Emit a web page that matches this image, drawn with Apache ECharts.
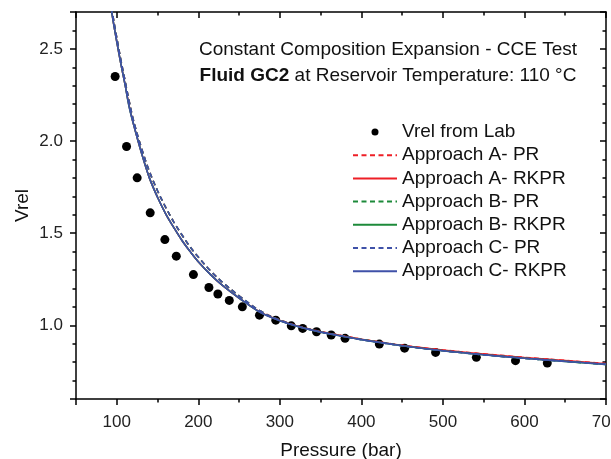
<!DOCTYPE html>
<html>
<head>
<meta charset="utf-8">
<script src="https://cdn.jsdelivr.net/npm/echarts@6/dist/echarts.min.js"></script>
<style>html,body{margin:0;padding:0;background:#fff}#c{width:611px;height:459px}</style>
</head>
<body>
<div id="c"></div>
<script>
// ---- data ----
var labP = [98, 112, 125, 141, 159, 173, 194, 213, 224, 238, 254, 275, 295, 314, 328, 345, 363, 380, 422, 453, 491, 541, 589, 628];
var labV = [2.35, 1.97, 1.80, 1.61, 1.465, 1.375, 1.275, 1.205, 1.17, 1.135, 1.10, 1.055, 1.028, 0.997, 0.983, 0.965, 0.947, 0.929, 0.898, 0.876, 0.853, 0.826, 0.808, 0.795];

var curveP = [92, 96, 100, 105, 110, 115, 120, 130, 140, 150, 160, 170, 180, 190, 200, 215, 230, 250, 275, 300, 325, 350, 375, 400, 450, 500, 550, 600, 650, 700];
var aPR   = [2.77, 2.66, 2.56, 2.44, 2.33, 2.22, 2.12, 1.965, 1.835, 1.73, 1.64, 1.56, 1.49, 1.425, 1.37, 1.295, 1.232, 1.16, 1.08, 1.029, 0.993, 0.966, 0.945, 0.925, 0.892, 0.866, 0.845, 0.826, 0.809, 0.792];
var aRKPR = [2.75, 2.64, 2.54, 2.42, 2.31, 2.195, 2.10, 1.94, 1.80, 1.695, 1.605, 1.53, 1.46, 1.40, 1.345, 1.275, 1.215, 1.148, 1.074, 1.026, 0.991, 0.965, 0.944, 0.924, 0.891, 0.865, 0.844, 0.825, 0.808, 0.791];
var bPR   = [2.77, 2.66, 2.56, 2.44, 2.33, 2.22, 2.12, 1.965, 1.835, 1.73, 1.64, 1.56, 1.49, 1.425, 1.37, 1.295, 1.232, 1.16, 1.08, 1.028, 0.991, 0.964, 0.943, 0.923, 0.889, 0.862, 0.840, 0.821, 0.804, 0.787];
var bRKPR = [2.75, 2.64, 2.54, 2.42, 2.31, 2.19, 2.10, 1.94, 1.80, 1.695, 1.605, 1.53, 1.46, 1.40, 1.345, 1.275, 1.215, 1.148, 1.073, 1.025, 0.990, 0.963, 0.942, 0.922, 0.889, 0.862, 0.840, 0.821, 0.804, 0.787];
var cPR   = [2.77, 2.66, 2.56, 2.44, 2.33, 2.22, 2.12, 1.965, 1.835, 1.73, 1.64, 1.56, 1.49, 1.425, 1.37, 1.295, 1.232, 1.16, 1.08, 1.028, 0.991, 0.964, 0.943, 0.922, 0.889, 0.862, 0.840, 0.821, 0.804, 0.788];
var cRKPR = [2.75, 2.64, 2.54, 2.42, 2.31, 2.19, 2.10, 1.94, 1.80, 1.695, 1.605, 1.53, 1.46, 1.40, 1.345, 1.275, 1.215, 1.148, 1.072, 1.025, 0.990, 0.963, 0.942, 0.922, 0.889, 0.862, 0.840, 0.821, 0.804, 0.788];

var seriesNames = ['Vrel from Lab', 'Approach A- PR', 'Approach A- RKPR', 'Approach B- PR', 'Approach B- RKPR', 'Approach C- PR', 'Approach C- RKPR'];
var titleLine1 = 'Constant Composition Expansion - CCE Test';
var titleBold = 'Fluid GC2';
var titleRest = ' at Reservoir Temperature: 110 °C';
var xName = 'Pressure (bar)';
var yName = 'Vrel';

// ---- build ----
var FONT = 'Liberation Sans, Arial, sans-serif';
function pairs(xs, ys) { return xs.map(function (x, i) { return [x, ys[i]]; }); }

var RED = '#ee1f26', GREEN = '#1d8a3a', BLUE = '#3f51a8';
var DASH = [5, 3.5];

function lineSeries(name, data, color, dashed) {
  return {
    name: name, type: 'line', data: pairs(curveP, data),
    showSymbol: false, symbol: 'none', smooth: 0.35, clip: true,
    lineStyle: { color: color, width: 1.6, type: dashed ? DASH : 'solid' },
    itemStyle: { color: color },
    emphasis: { disabled: true }, animation: false
  };
}

function mkX(pos, show) {
  return {
    type: 'value', show: true, position: pos, min: 50, max: 700, minInterval: 100, maxInterval: 100,
    name: show ? xName : '', nameLocation: 'middle', nameGap: 42,
    nameTextStyle: { fontFamily: FONT, fontSize: 19, color: '#111' },
    axisLine: { show: true, onZero: false, lineStyle: { color: '#000', width: 1.5 } },
    axisTick: { show: true, inside: !show, length: 6, lineStyle: { color: '#000', width: 1.5 } },
    minorTick: { show: true, splitNumber: 2, length: 3.5, lineStyle: { color: '#000', width: 1.5 } },
    axisLabel: { show: show, showMinLabel: false, margin: 15, fontFamily: FONT, fontSize: 17, color: '#222' },
    splitLine: { show: false }, minorSplitLine: { show: false }
  };
}
function mkY(pos, show) {
  return {
    type: 'value', show: true, position: pos, min: 0.6, max: 2.7, minInterval: 0.5, maxInterval: 0.5,
    name: show ? yName : '', nameLocation: 'middle', nameGap: 44, nameMoveOverlap: false,
    nameTextStyle: { fontFamily: FONT, fontSize: 19, color: '#111' },
    axisLine: { show: true, onZero: false, lineStyle: { color: '#000', width: 1.5 } },
    axisTick: { show: true, inside: !show, length: 6, lineStyle: { color: '#000', width: 1.5 } },
    minorTick: { show: true, splitNumber: 5, length: 3.5, lineStyle: { color: '#000', width: 1.5 } },
    axisLabel: { show: show, showMinLabel: false, showMaxLabel: false, margin: 13, fontFamily: FONT, fontSize: 17, color: '#222',
      formatter: function (v) { return v.toFixed(1); } },
    splitLine: { show: false }, minorSplitLine: { show: false }
  };
}

var hideSym = { color: 'rgba(0,0,0,0)', borderColor: 'rgba(0,0,0,0)', borderWidth: 0, opacity: 0 };

var chart = echarts.init(document.getElementById('c'), null, { renderer: 'canvas' });
chart.setOption({
  animation: false,
  backgroundColor: '#fff',
  grid: { left: 76, right: 5, top: 12, bottom: 60, containLabel: false, outerBoundsMode: 'none' },
  xAxis: [mkX('bottom', true), mkX('top', false)],
  yAxis: [mkY('left', true), mkY('right', false)],
  legend: {
    orient: 'vertical', left: 352, top: 122, padding: 0,
    itemWidth: 44, itemHeight: 7, itemGap: 3.2,
    textStyle: { fontFamily: FONT, fontSize: 19, color: '#111', lineHeight: 20 },
    selectedMode: false,
    data: seriesNames.map(function (n, i) {
      return i === 0 ? { name: n, icon: 'circle', itemStyle: { color: '#000', opacity: 1 } } : { name: n, itemStyle: hideSym };
    })
  },
  graphic: [
    { type: 'text', x: 388, y: 50, style: { text: titleLine1, textAlign: 'center', textVerticalAlign: 'middle', fontFamily: FONT, fontSize: 19, fill: '#111' } },
    { type: 'text', x: 388, y: 76, style: { text: '{b|' + titleBold + '}{n|' + titleRest + '}', textAlign: 'center', textVerticalAlign: 'middle', fontFamily: FONT, fontSize: 19, fill: '#111',
      rich: { b: { fontFamily: FONT, fontSize: 19, fontWeight: 'bold', fill: '#111' }, n: { fontFamily: FONT, fontSize: 19, fill: '#111' } } } }
  ],
  series: [
    { name: seriesNames[0], type: 'scatter', data: pairs(labP, labV), symbol: 'circle', symbolSize: 9,
      itemStyle: { color: '#000', opacity: 1 }, emphasis: { disabled: true } },
    lineSeries(seriesNames[1], aPR, RED, true),
    lineSeries(seriesNames[2], aRKPR, RED, false),
    lineSeries(seriesNames[3], bPR, GREEN, true),
    lineSeries(seriesNames[4], bRKPR, GREEN, false),
    lineSeries(seriesNames[5], cPR, BLUE, true),
    lineSeries(seriesNames[6], cRKPR, BLUE, false),
    { name: 'frame', type: 'scatter', xAxisIndex: 1, yAxisIndex: 1, data: [], silent: true }
  ]
});
</script>
</body>
</html>
